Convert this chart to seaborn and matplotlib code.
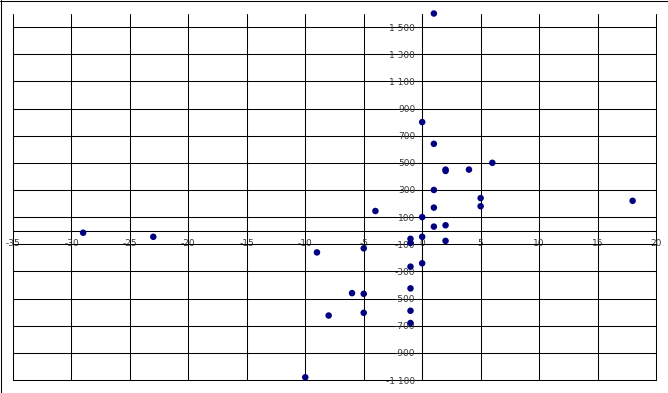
import matplotlib
matplotlib.use("Agg")
import matplotlib.pyplot as plt
import seaborn as sns
import pandas as pd
from matplotlib.lines import Line2D

# values
x_vals = [1, 0, 1, 2, 2, 4, 6, 1, 5, 5, 1, 0, 1, 2, 0, -1, -1, 2, 0, -1,
          -9, -5, -6, -5, -1, -8, -5, -1, -1, -10, -4, 18, -29, -23]
y_vals = [1600, 800, 640, 450, 440, 450, 500, 300, 240, 180, 170, 100, 30, 40,
          -45, -60, -90, -75, -240, -265, -160, -130, -460, -465, -425, -625,
          -605, -590, -680, -1080, 145, 220, -15, -45]

x_ticks = list(range(-35, 21, 5))
y_ticks = list(range(-1100, 1501, 200))

df = pd.DataFrame({"x": x_vals, "y": y_vals})

sns.set_style("white")
fig = plt.figure(figsize=(6.68, 3.93), dpi=100)
ax = fig.add_axes([13 / 668, 13 / 393, (656 - 13) / 668, (380 - 13.5) / 393])

sns.scatterplot(data=df, x="x", y="y", ax=ax, color="#000080", s=22,
                edgecolor="none", zorder=5, legend=False, clip_on=False)

ax.set_xlim(-35, 20)
ax.set_ylim(-1100, 1600)
ax.set_xticks(x_ticks)
ax.set_yticks(y_ticks)
ax.set_xticklabels([str(v) for v in x_ticks])
ax.set_yticklabels([f"{v:,}".replace(",", " ") for v in y_ticks])
ax.set_xlabel("")
ax.set_ylabel("")

# axes crossing at the origin
ax.spines["left"].set_position(("data", 0))
ax.spines["bottom"].set_position(("data", 0))
ax.spines["top"].set_visible(False)
ax.spines["right"].set_visible(False)
for s in ["left", "bottom"]:
    ax.spines[s].set_color("black")
    ax.spines[s].set_linewidth(0.75)

ax.tick_params(axis="both", length=0, labelsize=6.5, labelcolor="#3a3a3a")
ax.tick_params(axis="x", pad=6)
ax.tick_params(axis="y", pad=5)

ax.grid(True, color="black", linewidth=0.75)
for gl in ax.get_xgridlines() + ax.get_ygridlines():
    gl.set_clip_on(False)
ax.set_axisbelow(True)

# top and left frame of the picture
fig.add_artist(Line2D([0, 1], [1 - 0.5 / 393, 1 - 0.5 / 393], transform=fig.transFigure,
                      color="black", linewidth=0.75))
fig.add_artist(Line2D([0.5 / 668, 0.5 / 668], [0, 1], transform=fig.transFigure,
                      color="black", linewidth=0.75))

fig.savefig("out.png", dpi=100)
